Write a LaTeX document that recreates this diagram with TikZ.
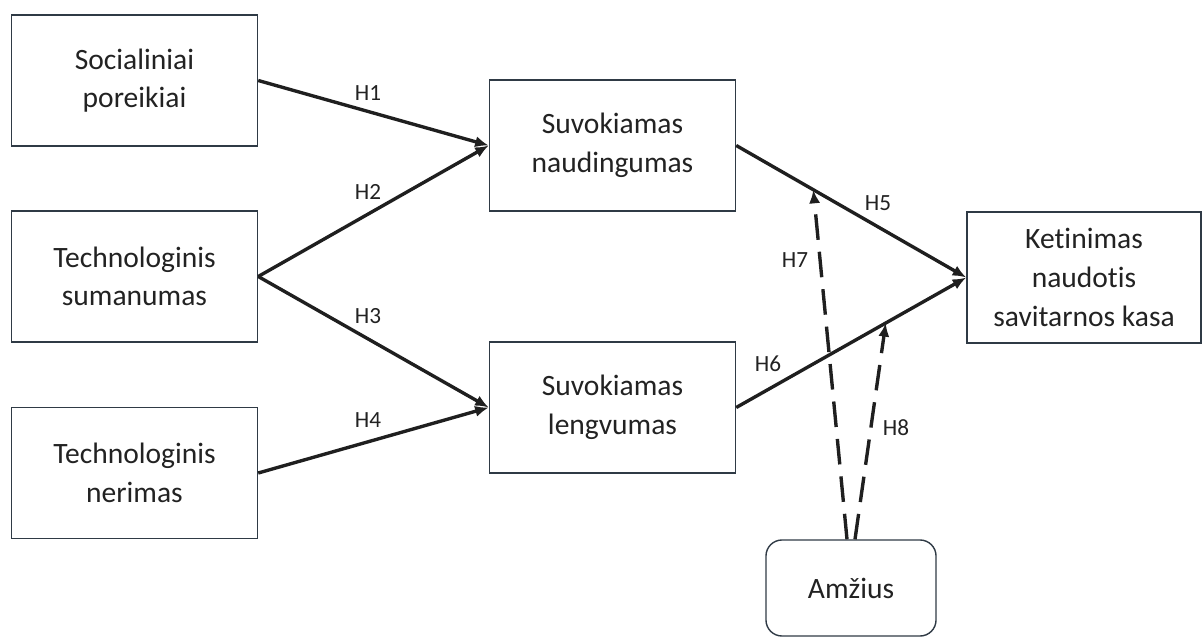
\documentclass[tikz,border=0pt]{standalone}
\usepackage{fontspec}
\setmainfont{Carlito}[Ligatures=NoCommon]
\usetikzlibrary{arrows.meta, positioning}

\definecolor{boxline}{HTML}{2F3A45}
\definecolor{txtgray}{HTML}{222222}

\begin{document}
\begin{tikzpicture}[
        x=0.025cm, y=-0.025cm,
        block/.style={draw=boxline, line width=1pt, align=center, text=txtgray,
            font=\fontsize{21}{27.5}\selectfont, minimum width=6.15cm, minimum height=3.275cm, inner sep=0pt},
        arrow/.style={-{Latex[length=3.4mm, width=2.8mm]}, line width=2.4pt, draw=black!88},
        dasharrow/.style={arrow, dash pattern=on 6.4mm off 3mm},
        hyp/.style={font=\fontsize{16.5}{18}\selectfont, text=txtgray, inner sep=1pt}
        ]

        \useasboundingbox (0,0) rectangle (1203,637);

        % Blocks
        \node[block] (social) at (134.5,80.5) {Socialiniai \\ poreikiai};
        \node[block] (savvy) at (134.5,276.5) {Technologinis \\ sumanumas};
        \node[block] (anxiety) at (134.5,473) {Technologinis \\ nerimas};

        \node[block] (usefulness) at (612.5,145.5) {Suvokiamas \\ naudingumas};
        \node[block] (ease) at (612.5,407.5) {Suvokiamas \\ lengvumas};

        \node[block, minimum width=5.85cm] (intention) at (1084,277.5) {Ketinimas \\ naudotis \\ savitarnos kasa};

        \node[block, minimum width=4.25cm, minimum height=2.4cm, rounded corners=0.4cm] (age) at (851,588) {Amžius};

        % Arrows
        \draw [arrow] (social.east) -- (usefulness.west);
        \draw [arrow] (savvy.east) -- (usefulness.west);
        \draw [arrow] (savvy.east) -- (ease.west);
        \draw [arrow] (anxiety.east) -- (ease.west);
        \draw [arrow] (usefulness.east) -- (intention.west);
        \draw [arrow] (ease.east) -- (intention.west);

        % Moderation by age
        \path (usefulness.east) -- (intention.west) coordinate[pos=0.335] (modH7);
        \path (ease.east) -- (intention.west) coordinate[pos=0.65] (modH8);
        \draw [dasharrow] ([xshift=-0.1cm]age.north) -- (modH7);
        \draw [dasharrow] ([xshift=0.1cm]age.north) -- (modH8);

        % Labels
        \node[hyp] (lH1) at (368,93) {H1};
        \node[hyp] (lH2) at (368,192) {H2};
        \node[hyp] (lH3) at (368,316) {H3};
        \node[hyp] (lH4) at (368,420) {H4};
        \node[hyp] (lH5) at (878,203) {H5};
        \node[hyp] (lH6) at (768,364) {H6};
        \node[hyp] (lH7) at (795,260) {H7};
        \node[hyp] (lH8) at (896,428) {H8};
    \end{tikzpicture}
\end{document}
